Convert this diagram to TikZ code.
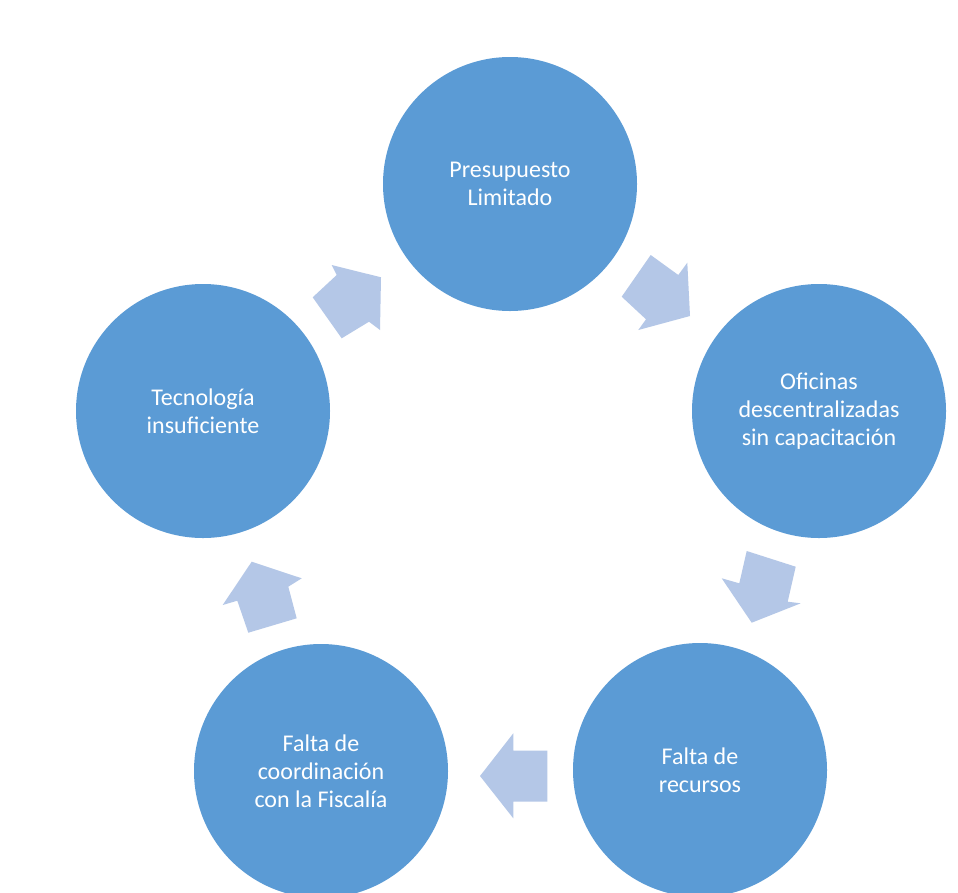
\documentclass[tikz,border=0pt]{standalone}
\usepackage{fontspec}
\setmainfont{Carlito}
\definecolor{circblue}{HTML}{5B9BD5}
\definecolor{arrblue}{HTML}{B4C7E7}
\begin{document}
\begin{tikzpicture}[x=1pt,y=-1pt,
  stage/.style={circle,fill=circblue,draw=none,minimum size=254pt,inner sep=0pt,
    text=white,align=center,font=\fontsize{24}{28}\selectfont},
  blockarrow/.style={fill=arrblue,draw=none}]
\useasboundingbox (0,0) rectangle (958,892);
\fill[white] (0,0) rectangle (958,892);
\node[stage] (pres) at (510,184) {Presupuesto\\Limitado};
\node[stage] (ofic) at (819,411) {Oficinas\\descentralizadas\\sin capacitación};
\node[stage] (recu) at (700,770) {Falta de\\recursos};
\node[stage] (coor) at (321,771) {Falta de\\coordinación\\con la Fiscalía};
\node[stage] (tecn) at (203,411) {Tecnología\\insuficiente};
% block arrows of the cycle
\fill[blockarrow] (331.7,265) -- (381,277.3) -- (380,330) -- (369,321.7) -- (341.7,338.3) -- (312.7,297.3) -- (336.7,275) -- cycle;
\fill[blockarrow] (687.3,262.7) -- (690,316) -- (638.3,330) -- (646,319.3) -- (621.7,296.7) -- (650.7,255) -- (678.3,275) -- cycle;
\fill[blockarrow] (746.7,551) -- (795.7,566.7) -- (787.7,601.7) -- (800.7,603.3) -- (751.7,622.7) -- (721.7,578.3) -- (739.3,583.3) -- cycle;
\fill[blockarrow] (547.3,750.7) -- (547.3,801.7) -- (513.3,801.7) -- (513.3,818.3) -- (480,776) -- (513.3,733.3) -- (513.3,750.7) -- cycle;
\fill[blockarrow] (296.7,618.3) -- (248.3,632.7) -- (237.3,600.7) -- (222.7,605) -- (251.7,561.7) -- (301.7,578.3) -- (288.3,586.7) -- cycle;
\end{tikzpicture}
\end{document}
